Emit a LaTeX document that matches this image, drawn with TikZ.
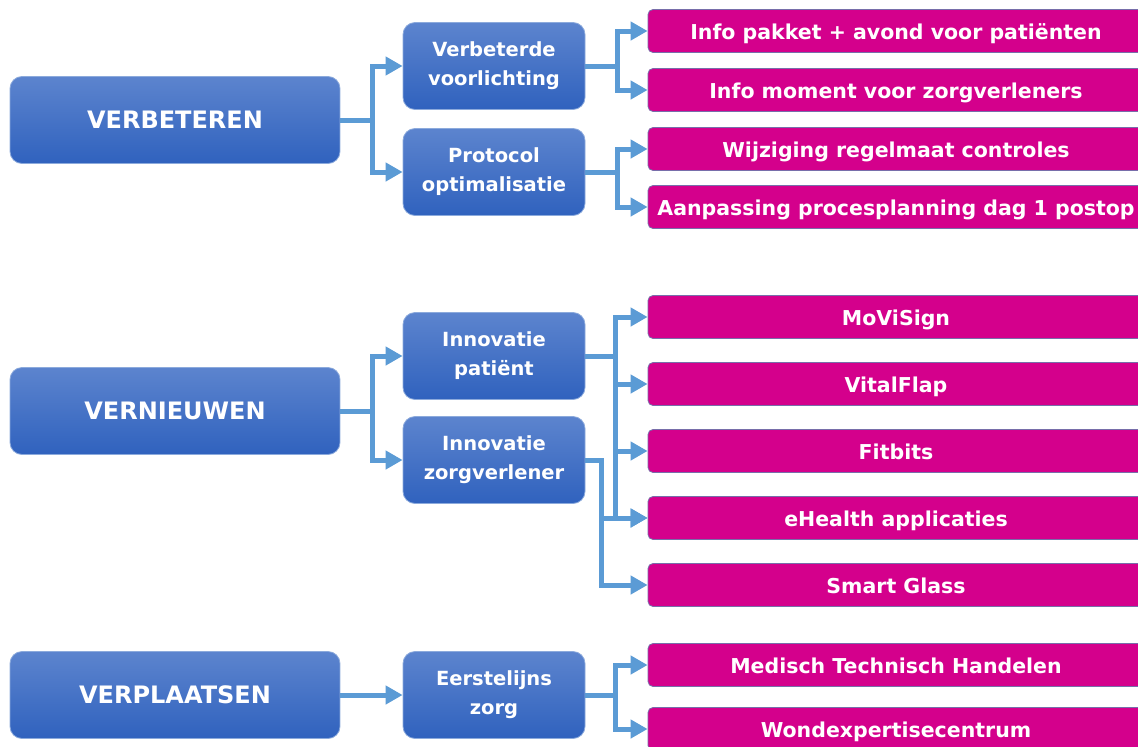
\documentclass[tikz,border=0pt]{standalone}
\usepackage{xcolor}
\usepackage{fontspec}
\setmainfont{DejaVu Sans}
\usepackage{tikz}
\usetikzlibrary{arrows.meta, positioning, calc}
\definecolor{boxtop}{RGB}{92,132,206}
\definecolor{boxbottom}{RGB}{48,98,190}
\definecolor{boxedge}{RGB}{140,170,220}
\definecolor{actionpink}{RGB}{212,0,140}
\definecolor{actionedge}{RGB}{120,110,170}
\definecolor{linkblue}{RGB}{91,155,213}

\tikzset{
  mainbox/.style={rounded corners=12pt, top color=boxtop, bottom color=boxbottom,
    draw=boxedge, line width=0.8pt, minimum width=330pt, minimum height=87pt,
    text=white, font=\bfseries\fontsize{24}{29}\selectfont},
  subbox/.style={mainbox, minimum width=182pt, align=center,
    font=\bfseries\fontsize{19.5}{29}\selectfont},
  actionbox/.style={rounded corners=5pt, fill=actionpink, draw=actionedge,
    line width=0.8pt, minimum width=496pt, minimum height=43pt,
    text height=18pt, text depth=1pt,
    text=white, font=\bfseries\fontsize{20.5}{25}\selectfont},
  conn/.style={draw=linkblue, line width=5pt, -{Triangle[length=17pt,width=18pt]}}
}

\begin{document}
\begin{tikzpicture}[x=1pt, y=-1pt]
        \clip (0,0) rectangle (1138,747);
        \fill[white] (0,0) rectangle (1138,747);

        % Main themes
        \node[mainbox] (verbeteren) at (175,120) {VERBETEREN};
        \node[mainbox] (vernieuwen) at (175,411) {VERNIEUWEN};
        \node[mainbox] (verplaatsen) at (175,695) {VERPLAATSEN};

        % Sub themes
        \node[subbox] (voorlichting) at (494,66) {Verbeterde\\voorlichting};
        \node[subbox] (protocol) at (494,172) {Protocol\\optimalisatie};
        \node[subbox] (innpatient) at (494,356) {Innovatie\\patiënt};
        \node[subbox] (innzorg) at (494,460) {Innovatie\\zorgverlener};
        \node[subbox] (eerstelijn) at (494,695) {Eerstelijns\\zorg};

        % Actions
        \node[actionbox] (infopakket) at (896,31) {Info pakket + avond voor patiënten};
        \node[actionbox] (infomoment) at (896,90) {Info moment voor zorgverleners};
        \node[actionbox] (wijziging) at (896,149) {Wijziging regelmaat controles};
        \node[actionbox] (aanpassing) at (896,207) {Aanpassing procesplanning dag 1 postop};
        \node[actionbox] (movisign) at (896,317) {MoViSign};
        \node[actionbox] (vitalflap) at (896,384) {VitalFlap};
        \node[actionbox] (fitbits) at (896,451) {Fitbits};
        \node[actionbox] (ehealth) at (896,518) {eHealth applicaties};
        \node[actionbox] (smartglass) at (896,585) {Smart Glass};
        \node[actionbox] (medisch) at (896,665) {Medisch Technisch Handelen};
        \node[actionbox] (wondexp) at (896,729) {Wondexpertisecentrum};

        % Theme to sub theme
        \draw[conn] (verbeteren.east) -- ++(32,0) |- (voorlichting.west);
        \draw[conn] (verbeteren.east) -- ++(32,0) |- (protocol.west);
        \draw[conn] (vernieuwen.east) -- ++(32,0) |- (innpatient.west);
        \draw[conn] (vernieuwen.east) -- ++(32,0) |- (innzorg.west);
        \draw[conn] (verplaatsen.east) -- (eerstelijn.west);

        % Sub theme to action
        \draw[conn] (voorlichting.east) -- ++(32,0) |- (infopakket.west);
        \draw[conn] (voorlichting.east) -- ++(32,0) |- (infomoment.west);
        \draw[conn] (protocol.east) -- ++(32,0) |- (wijziging.west);
        \draw[conn] (protocol.east) -- ++(32,0) |- (aanpassing.west);
        \draw[conn] (innpatient.east) -- ++(30,0) |- (movisign.west);
        \draw[conn] (innpatient.east) -- ++(30,0) |- (vitalflap.west);
        \draw[conn] (innpatient.east) -- ++(30,0) |- (fitbits.west);
        \draw[conn] (innpatient.east) -- ++(30,0) |- (ehealth.west);
        \draw[conn] (innzorg.east) -- ++(16,0) |- (ehealth.west);
        \draw[conn] (innzorg.east) -- ++(16,0) |- (smartglass.west);
        \draw[conn] (eerstelijn.east) -- ++(30,0) |- (medisch.west);
        \draw[conn] (eerstelijn.east) -- ++(30,0) |- (wondexp.west);
    \end{tikzpicture}
\end{document}
